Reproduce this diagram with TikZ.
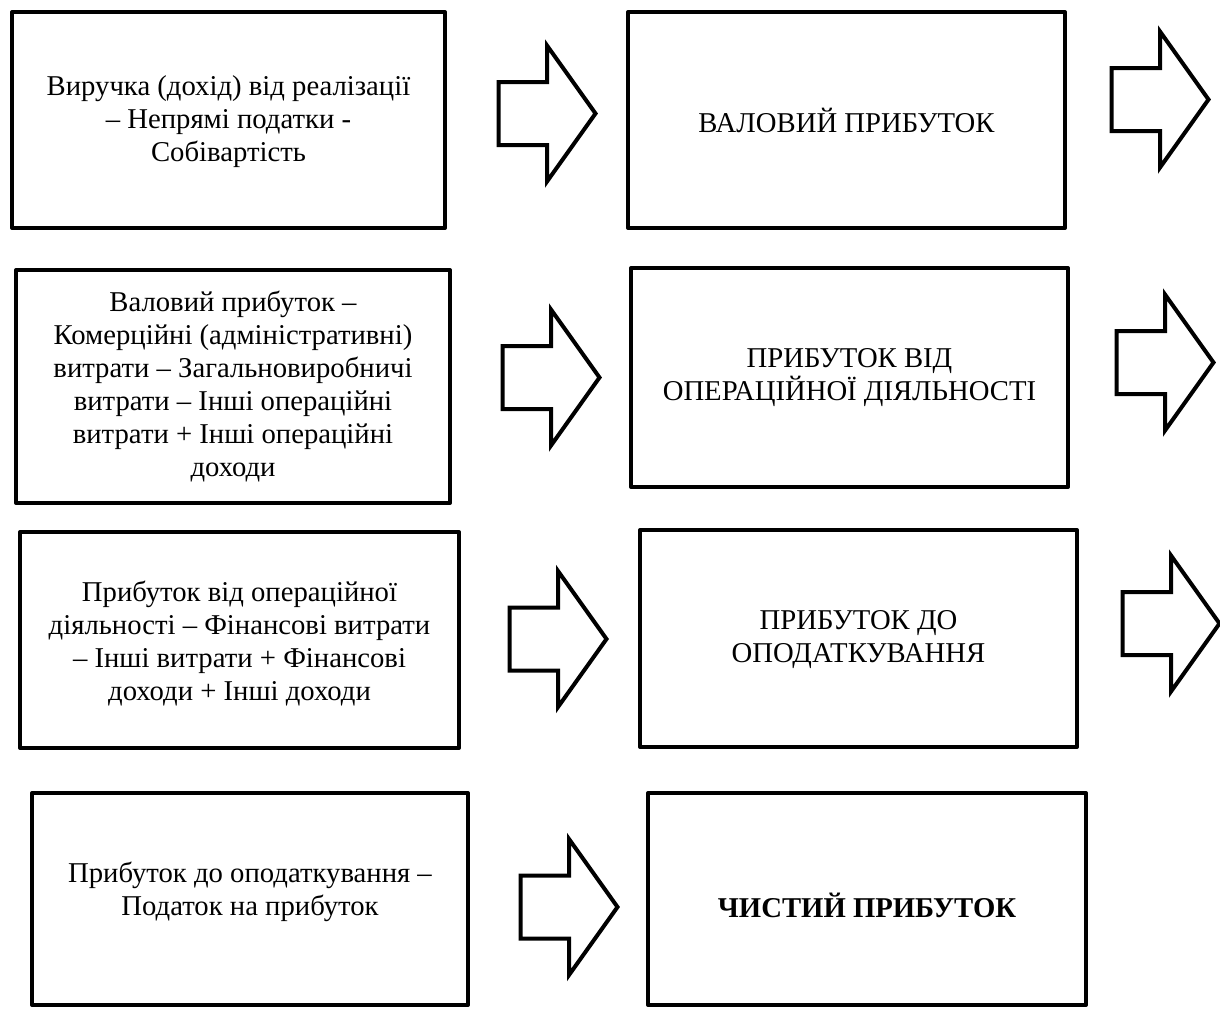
\documentclass[tikz,border=0pt]{standalone}
\usepackage{fontspec}
\setmainfont{Liberation Serif}
\begin{document}
\begin{tikzpicture}[x=1pt,y=-1pt,
  boxline/.style={draw=black,line width=4pt,line join=round,fill=none},
  arrowline/.style={draw=black,line width=4pt,line join=miter,fill=white},
  txt/.style={font=\fontsize{28.7}{33}\selectfont,align=center,inner sep=0pt},
  pics/blockarrow/.style={code={
    \draw[arrowline] (-48.5,-31.5) -- (0,-31.5) -- (0,-68) -- (48.5,0) -- (0,68) -- (0,31.5) -- (-48.5,31.5) -- cycle;}}
]
\useasboundingbox (0,0) rectangle (1220,1010);
% boxes (left column)
\draw[boxline] (12,12) rectangle (445,228);
\coordinate (l1) at (228.5,122);
\draw[boxline] (16,270) rectangle (450,503);
\coordinate (l2) at (233,386);
\draw[boxline] (20,532) rectangle (459,748);
\coordinate (l3) at (239.5,643);
\draw[boxline] (32,793) rectangle (468,1005);
\coordinate (l4) at (250,892);
% boxes (right column)
\draw[boxline] (628,12) rectangle (1065,228);
\coordinate (r1) at (846.5,120);
\draw[boxline] (631,268) rectangle (1068,487);
\coordinate (r2) at (849.5,378);
\draw[boxline] (640,530) rectangle (1077,747);
\coordinate (r3) at (858.5,640);
\draw[boxline] (648,793) rectangle (1086,1005);
\coordinate (r4) at (867,905);
% texts
\node[txt] (t1) at (l1) {Виручка (дохід) від реалізації\\– Непрямі податки -\\Собівартість};
\node[txt] (t2) at (l2) {Валовий прибуток –\\Комерційні (адміністративні)\\витрати – Загальновиробничі\\витрати – Інші операційні\\витрати + Інші операційні\\доходи};
\node[txt] (t3) at (l3) {Прибуток від операційної\\діяльності – Фінансові витрати\\– Інші витрати + Фінансові\\доходи + Інші доходи};
\node[txt] (t4) at (l4) {Прибуток до оподаткування –\\Податок на прибуток};
\node[txt] (u1) at (r1) {ВАЛОВИЙ ПРИБУТОК};
\node[txt] (u2) at (r2) {ПРИБУТОК ВІД\\ОПЕРАЦІЙНОЇ ДІЯЛЬНОСТІ};
\node[txt] (u3) at (r3) {ПРИБУТОК ДО\\ОПОДАТКУВАННЯ};
\node[txt,font=\fontsize{28.7}{33}\selectfont\bfseries] (u4) at (r4) {ЧИСТИЙ ПРИБУТОК};
% block arrows
\pic (a1) at (547,113.5) {blockarrow};
\pic (a2) at (1160,99.5) {blockarrow};
\pic (a3) at (551,377.5) {blockarrow};
\pic (a4) at (1165,362.5) {blockarrow};
\pic (a5) at (558,639) {blockarrow};
\pic (a6) at (1171,623.5) {blockarrow};
\pic (a7) at (569,907) {blockarrow};
\end{tikzpicture}
\end{document}
